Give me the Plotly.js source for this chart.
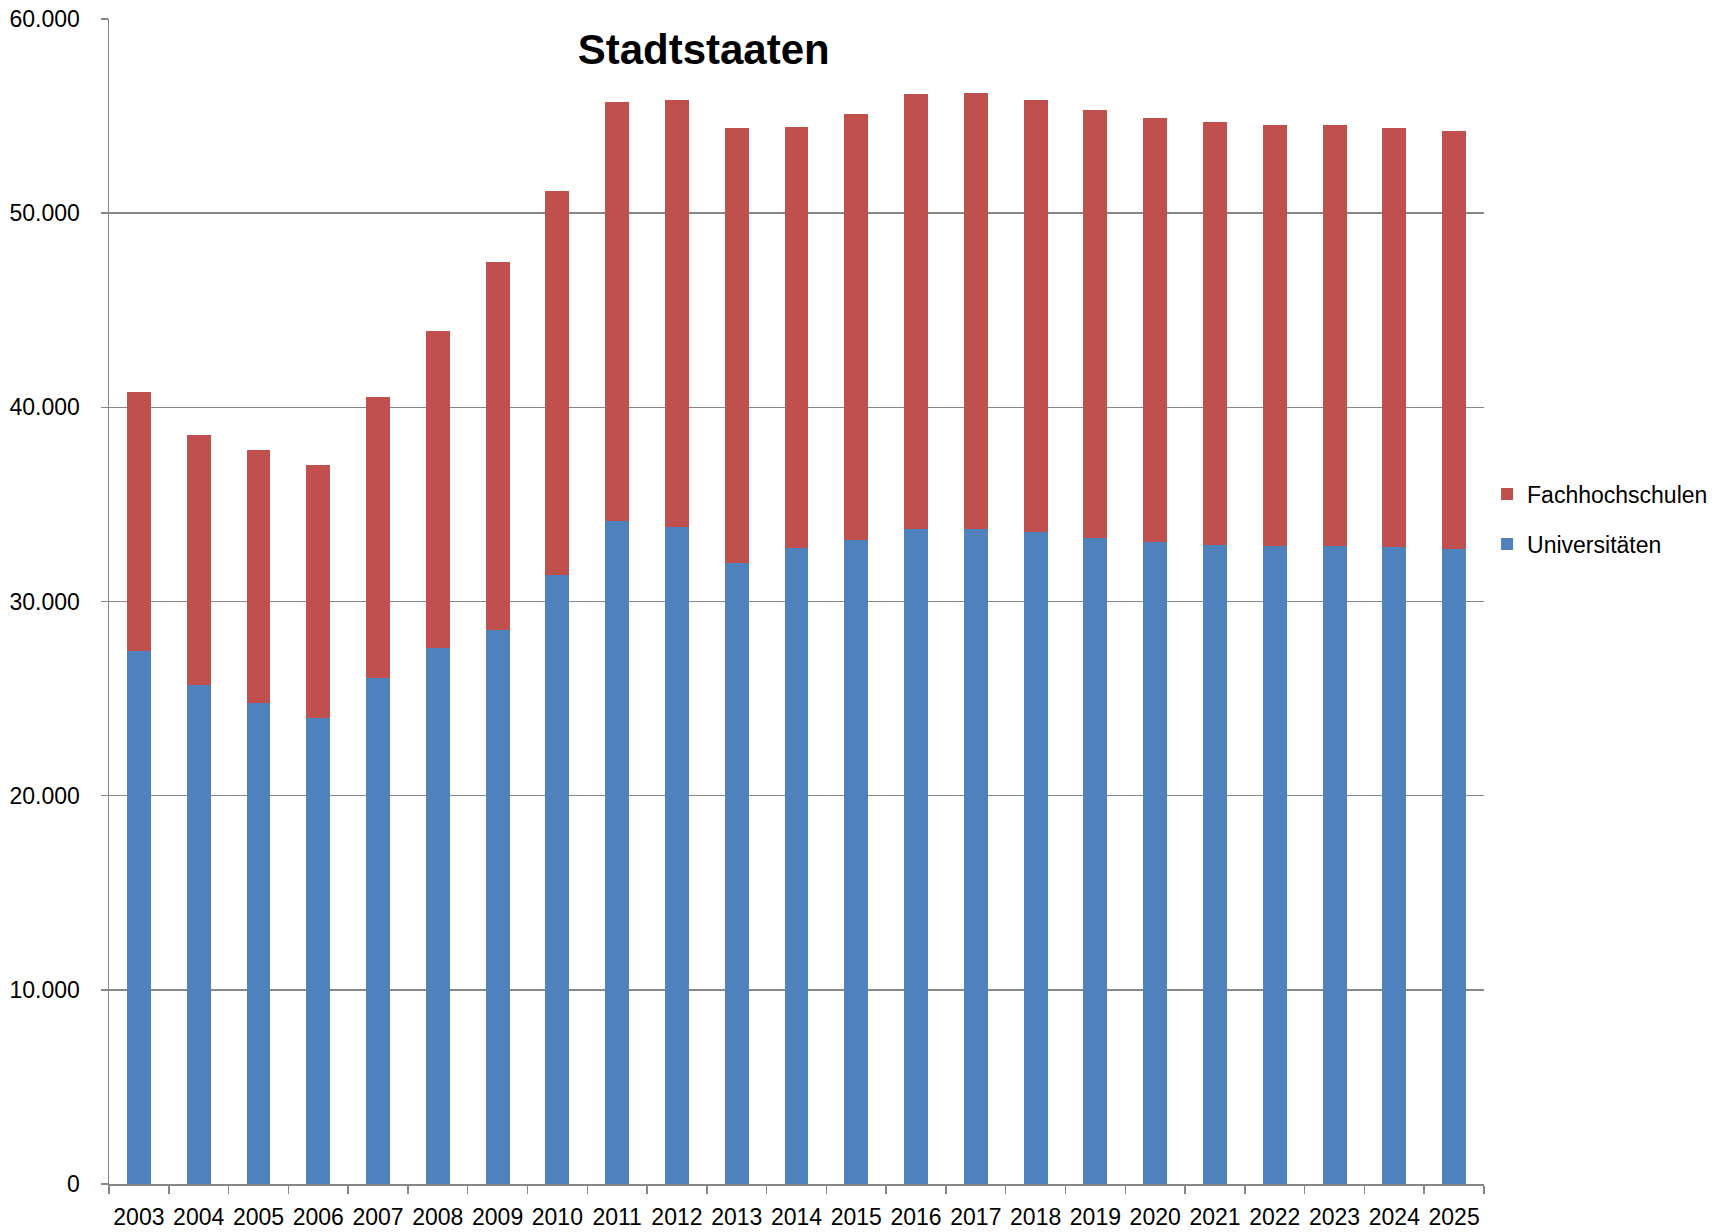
<!DOCTYPE html>
<html>
<head>
<meta charset="utf-8">
<script src="https://cdn.plot.ly/plotly-3.0.1.min.js"></script>
<style>
  html, body { margin: 0; padding: 0; background: #ffffff; }
  #chart { width: 1714px; height: 1232px; }
</style>
</head>
<body>
<div id="chart"></div>
<script>
const years = ["2003","2004","2005","2006","2007","2008","2009","2010","2011","2012","2013","2014","2015","2016","2017","2018","2019","2020","2021","2022","2023","2024","2025"];
const universitaeten = [27430, 25720, 24770, 23980, 26060, 27620, 28530, 31360, 34160, 33860, 31980, 32780, 33160, 33740, 33740, 33570, 33280, 33070, 32920, 32850, 32850, 32800, 32700];
const fachhochschulen = [13350, 12860, 13040, 13060, 14480, 16300, 18980, 19800, 21560, 21960, 22400, 21650, 21940, 22400, 22440, 22260, 22040, 21840, 21770, 21680, 21680, 21610, 21540];
const yTicks = [0, 10000, 20000, 30000, 40000, 50000, 60000];

const FONT = "Liberation Sans, Arial, sans-serif";
const GRAY = "#868686";

const traces = [
  {
    type: "bar",
    name: "Universitäten",
    x: years,
    y: universitaeten,
    marker: { color: "#4F81BD", line: { width: 0 } },
    legendgroup: "u",
    legendrank: 2,
    hoverinfo: "x+y+name"
  },
  {
    type: "bar",
    name: "Fachhochschulen",
    x: years,
    y: fachhochschulen,
    marker: { color: "#C0504D", line: { width: 0 } },
    legendgroup: "f",
    legendrank: 1,
    hoverinfo: "x+y+name"
  }
];

const layout = {
  width: 1714,
  height: 1232,
  paper_bgcolor: "#ffffff",
  plot_bgcolor: "#ffffff",
  barmode: "stack",
  bargap: 0.6,
  separators: ",.",
  margin: { l: 109, r: 230, t: 19, b: 48, pad: 0 },
  font: { family: FONT, color: "#000000", size: 23 },
  title: {
    text: "<b>Stadtstaaten</b>",
    font: { family: FONT, size: 42, color: "#000000" },
    xref: "paper",
    x: 0.4325,
    xanchor: "center",
    yref: "container",
    y: 0.960,
    yanchor: "middle"
  },
  xaxis: {
    type: "category",
    showline: true,
    linecolor: GRAY,
    linewidth: 1.5,
    ticks: "outside",
    tickson: "boundaries",
    ticklen: 8,
    tickcolor: GRAY,
    tickwidth: 1.5,
    tickangle: 0,
    tickfont: { family: FONT, size: 23, color: "#000000" },
    ticklabelstandoff: 12,
    showgrid: false,
    zeroline: false,
    fixedrange: true
  },
  yaxis: {
    range: [0, 60000],
    tickvals: yTicks,
    tickformat: ",d",
    showline: true,
    linecolor: GRAY,
    linewidth: 1.5,
    ticks: "outside",
    ticklen: 7,
    tickcolor: GRAY,
    tickwidth: 1.5,
    tickfont: { family: FONT, size: 23, color: "#000000" },
    ticklabelstandoff: 16,
    showgrid: true,
    gridcolor: GRAY,
    gridwidth: 1.5,
    zeroline: false,
    fixedrange: true
  },
  legend: {
    xref: "container",
    x: 0.8676,
    xanchor: "left",
    yref: "container",
    y: 0.5787,
    yanchor: "middle",
    traceorder: "grouped",
    tracegroupgap: 17,
    font: { family: FONT, size: 23, color: "#000000" },
    bgcolor: "rgba(0,0,0,0)",
    borderwidth: 0
  },
  showlegend: true
};

Plotly.newPlot("chart", traces, layout, { displayModeBar: false, staticPlot: true });
</script>
</body>
</html>
